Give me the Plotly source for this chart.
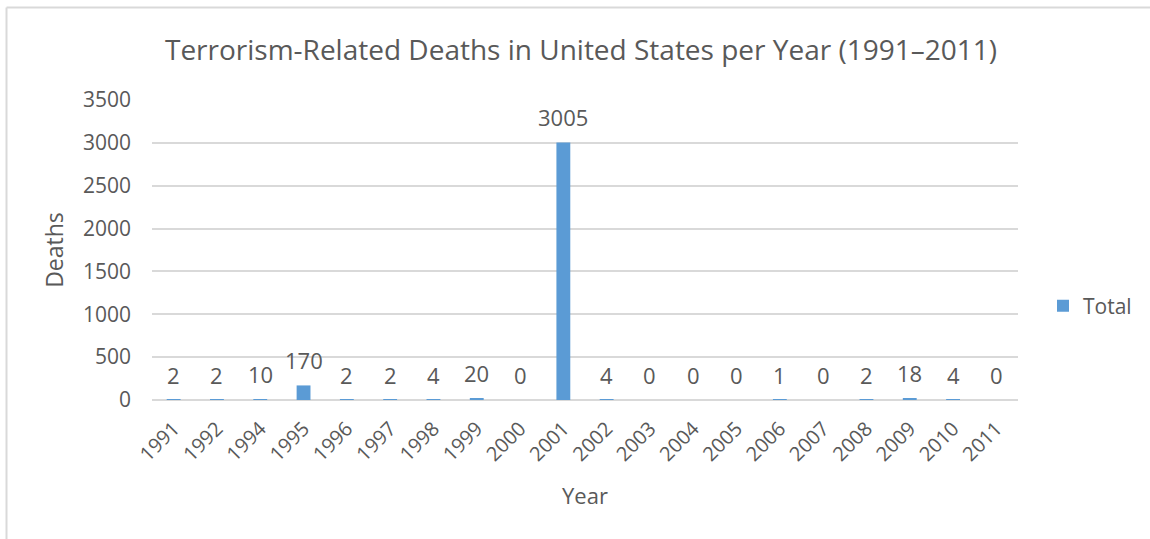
import plotly.graph_objects as go

# Terrorism-related deaths in the United States, by year
years = ["1991", "1992", "1994", "1995", "1996", "1997", "1998", "1999", "2000", "2001",
         "2002", "2003", "2004", "2005", "2006", "2007", "2008", "2009", "2010", "2011"]
deaths = [2, 2, 10, 170, 2, 2, 4, 20, 0, 3005, 4, 0, 0, 0, 1, 0, 2, 18, 4, 0]

y_ticks = [0, 500, 1000, 1500, 2000, 2500, 3000, 3500]

FONT = "Open Sans"
TEXT = "#595959"
GRID = "#D9D9D9"
BAR = "#5B9BD5"

W, H = 1150, 539
L, R, T, B = 152, 132, 100, 139
pw, ph = W - L - R, H - T - B


def px_x(p):
    """pixel column -> paper x"""
    return (p - L) / pw


def px_y(p):
    """pixel row (from top) -> paper y"""
    return (H - B - p) / ph


fig = go.Figure()
fig.add_trace(go.Bar(
    x=years, y=deaths, name="Total",
    marker=dict(color=BAR, line=dict(width=0)),
    showlegend=True,
))

# value labels above each bar (category positions by index)
for i, v in enumerate(deaths):
    fig.add_annotation(x=i, y=v, xref="x", yref="y", text=str(v),
                       showarrow=False, yanchor="middle", yshift=25,
                       font=dict(family=FONT, size=22, color=TEXT))

# chart-area frame (left and top edges)
fig.add_shape(type="line", xref="paper", yref="paper",
              x0=px_x(6.5), x1=px_x(6.5), y0=px_y(H + 5), y1=px_y(7.5),
              line=dict(color=GRID, width=2))
fig.add_shape(type="line", xref="paper", yref="paper",
              x0=px_x(6.5), x1=px_x(W + 5), y0=px_y(7.5), y1=px_y(7.5),
              line=dict(color=GRID, width=2))

fig.update_layout(
    width=W, height=H,
    margin=dict(l=L, r=R, t=T, b=B, autoexpand=False),
    paper_bgcolor="white", plot_bgcolor="white",
    font=dict(family=FONT, color=TEXT),
    bargap=0.68,
    title=dict(text="Terrorism-Related Deaths in United States per Year (1991–2011)",
               x=581 / W, xanchor="center", y=1 - 50 / H, yanchor="middle",
               font=dict(family=FONT, size=28, color=TEXT)),
    legend=dict(x=px_x(1043), y=px_y(306), xanchor="left", yanchor="middle",
                font=dict(family=FONT, size=21, color=TEXT), bgcolor="rgba(0,0,0,0)",
                itemwidth=30),
    xaxis=dict(
        type="category", tickangle=-45, showgrid=False, ticks="",
        showline=False, zeroline=False,
        tickfont=dict(family=FONT, size=20, color=TEXT), ticklabelstandoff=12,
        title=dict(text="Year", font=dict(family=FONT, size=22, color=TEXT), standoff=22),
    ),
    yaxis=dict(
        range=[0, 3500], tickvals=y_ticks, showgrid=True, gridcolor=GRID, gridwidth=2,
        zeroline=True, zerolinecolor=GRID, zerolinewidth=2, showline=False, ticks="",
        tickfont=dict(family=FONT, size=21, color=TEXT), ticklabelstandoff=20,
        title=dict(text="Deaths", font=dict(family=FONT, size=23, color=TEXT), standoff=12),
    ),
)

fig.write_html("out.html")
